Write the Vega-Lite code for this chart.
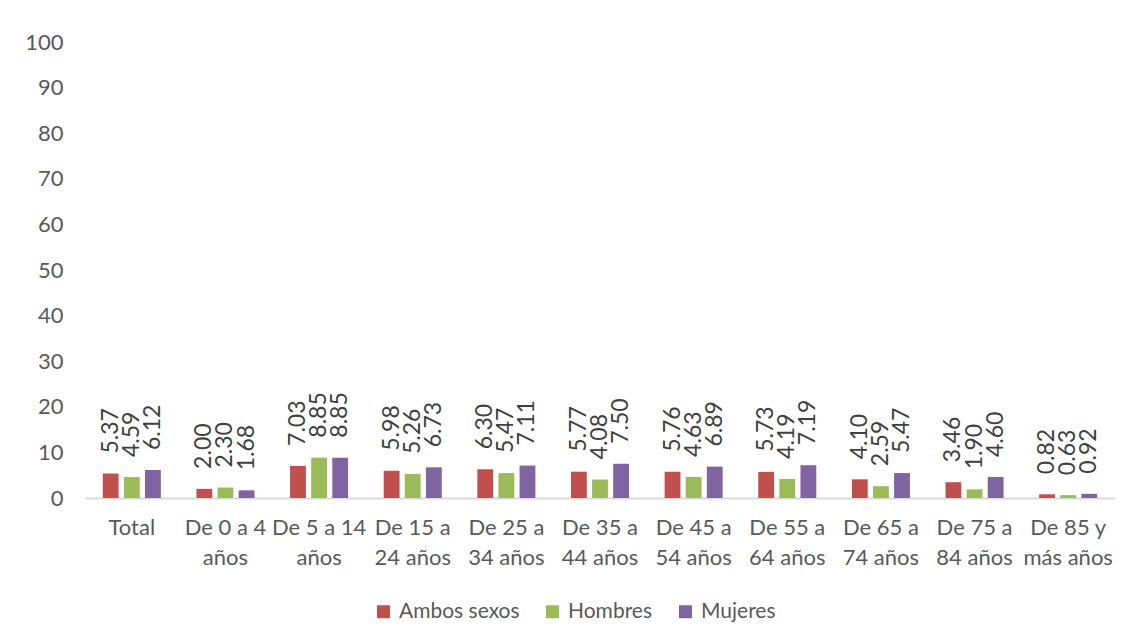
{
  "$schema": "https://vega.github.io/schema/vega-lite/v6.json",
  "width": 1030,
  "height": 456,
  "autosize": {"type": "none"},
  "padding": {"left": 85, "top": 42, "right": 17, "bottom": 146},
  "background": "white",
  "config": {
    "view": {"stroke": null},
    "font": "Lato",
    "axis": {"labelColor": "#595959", "labelFont": "Lato", "labelFontSize": 22, "grid": false, "ticks": false, "title": null}
  },
  "data": {
    "values": [
      {"grupo": "Total", "sexo": "Ambos sexos", "valor": 5.37},
      {"grupo": "Total", "sexo": "Hombres", "valor": 4.59},
      {"grupo": "Total", "sexo": "Mujeres", "valor": 6.12},
      {"grupo": "De 0 a 4\naños", "sexo": "Ambos sexos", "valor": 2.00},
      {"grupo": "De 0 a 4\naños", "sexo": "Hombres", "valor": 2.30},
      {"grupo": "De 0 a 4\naños", "sexo": "Mujeres", "valor": 1.68},
      {"grupo": "De 5 a 14\naños", "sexo": "Ambos sexos", "valor": 7.03},
      {"grupo": "De 5 a 14\naños", "sexo": "Hombres", "valor": 8.85},
      {"grupo": "De 5 a 14\naños", "sexo": "Mujeres", "valor": 8.85},
      {"grupo": "De 15 a\n24 años", "sexo": "Ambos sexos", "valor": 5.98},
      {"grupo": "De 15 a\n24 años", "sexo": "Hombres", "valor": 5.26},
      {"grupo": "De 15 a\n24 años", "sexo": "Mujeres", "valor": 6.73},
      {"grupo": "De 25 a\n34 años", "sexo": "Ambos sexos", "valor": 6.30},
      {"grupo": "De 25 a\n34 años", "sexo": "Hombres", "valor": 5.47},
      {"grupo": "De 25 a\n34 años", "sexo": "Mujeres", "valor": 7.11},
      {"grupo": "De 35 a\n44 años", "sexo": "Ambos sexos", "valor": 5.77},
      {"grupo": "De 35 a\n44 años", "sexo": "Hombres", "valor": 4.08},
      {"grupo": "De 35 a\n44 años", "sexo": "Mujeres", "valor": 7.50},
      {"grupo": "De 45 a\n54 años", "sexo": "Ambos sexos", "valor": 5.76},
      {"grupo": "De 45 a\n54 años", "sexo": "Hombres", "valor": 4.63},
      {"grupo": "De 45 a\n54 años", "sexo": "Mujeres", "valor": 6.89},
      {"grupo": "De 55 a\n64 años", "sexo": "Ambos sexos", "valor": 5.73},
      {"grupo": "De 55 a\n64 años", "sexo": "Hombres", "valor": 4.19},
      {"grupo": "De 55 a\n64 años", "sexo": "Mujeres", "valor": 7.19},
      {"grupo": "De 65 a\n74 años", "sexo": "Ambos sexos", "valor": 4.10},
      {"grupo": "De 65 a\n74 años", "sexo": "Hombres", "valor": 2.59},
      {"grupo": "De 65 a\n74 años", "sexo": "Mujeres", "valor": 5.47},
      {"grupo": "De 75 a\n84 años", "sexo": "Ambos sexos", "valor": 3.46},
      {"grupo": "De 75 a\n84 años", "sexo": "Hombres", "valor": 1.90},
      {"grupo": "De 75 a\n84 años", "sexo": "Mujeres", "valor": 4.60},
      {"grupo": "De 85 y\nmás años", "sexo": "Ambos sexos", "valor": 0.82},
      {"grupo": "De 85 y\nmás años", "sexo": "Hombres", "valor": 0.63},
      {"grupo": "De 85 y\nmás años", "sexo": "Mujeres", "valor": 0.92}
    ]
  },
  "encoding": {
    "x": {
      "field": "grupo", "type": "nominal", "sort": null,
      "scale": {"paddingInner": 0.38, "paddingOuter": 0.19},
      "axis": {"labelAngle": 0, "labelExpr": "split(datum.label, '\\n')", "labelLineHeight": 30, "labelPadding": 19, "labelBaseline": "top", "domainColor": "#D9D9D9", "domainWidth": 2}
    },
    "xOffset": {"field": "sexo", "sort": ["Ambos sexos", "Hombres", "Mujeres"], "scale": {"paddingInner": 0.25, "paddingOuter": 0}},
    "y": {
      "field": "valor", "type": "quantitative",
      "scale": {"domain": [0, 100]},
      "axis": {"values": [0, 10, 20, 30, 40, 50, 60, 70, 80, 90, 100], "domain": false, "labelPadding": 22}
    }
  },
  "layer": [
    {
      "mark": {"type": "bar"},
      "encoding": {
        "color": {
          "field": "sexo", "type": "nominal",
          "scale": {"domain": ["Ambos sexos", "Hombres", "Mujeres"], "range": ["#C0504D", "#9BBB59", "#8064A2"]},
          "legend": {"title": null, "orient": "none", "legendX": 288, "legendY": 559, "direction": "horizontal", "symbolType": "square", "symbolSize": 169, "symbolStrokeWidth": 0, "labelFontSize": 21, "labelColor": "#595959", "columnPadding": 22, "labelOffset": 5}
        }
      }
    },
    {
      "mark": {"type": "text", "angle": -90, "align": "left", "baseline": "middle", "dx": 20, "fontSize": 23, "color": "#404040"},
      "encoding": {"text": {"field": "valor", "type": "quantitative", "format": ".2f"}}
    }
  ]
}
